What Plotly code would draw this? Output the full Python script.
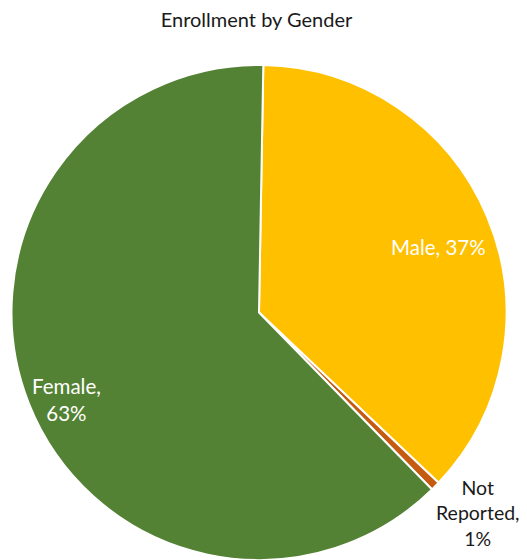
import math
import plotly.graph_objects as go

# Data
labels = ["Male", "Not Reported", "Female"]
values = [36.8, 0.6, 62.6]
display_labels = ["Male, 37%", "Not<br>Reported,<br>1%", "Female,<br>63%"]

# Styles
colors = ["#FFC000", "#C55A11", "#548235"]
text_colors = ["white", "#1a1a1a", "white"]
label_radius = [0.77, 1.20, 0.853]
label_angle_shift = [2.7, -2.2, -2.8]
label_sizes = [20.5, 19.5, 20.5]

W, H = 527, 560
OFF = 8  # page body margin
ROT = 1
CX, CY, R = 259 - OFF, 312.5 - OFF, 247.5
dom_x = [(CX - R) / W, (CX + R) / W]
dom_y = [1 - (CY + R) / H, 1 - (CY - R) / H]

fig = go.Figure(go.Pie(
    labels=labels,
    values=values,
    sort=False,
    direction="clockwise",
    rotation=ROT,
    marker=dict(colors=colors, line=dict(color="white", width=2)),
    textinfo="none",
    hoverinfo="label+percent",
    showlegend=False,
    domain=dict(x=dom_x, y=dom_y),
))

# label positions derived from slice mid-angles
total = sum(values)
cum = 0
for v, txt, col, f, sh, fs in zip(values, display_labels, text_colors,
                                  label_radius, label_angle_shift, label_sizes):
    mid = math.radians(ROT + 360 * (cum + v / 2) / total + sh)
    cum += v
    px = CX + R * f * math.sin(mid)
    py = CY - R * f * math.cos(mid)
    fig.add_annotation(
        x=px / W, y=1 - py / H, xref="paper", yref="paper",
        text=txt, showarrow=False, xanchor="center", yanchor="middle",
        font=dict(family="Lato", size=fs, color=col), align="center",
    )

fig.update_layout(
    width=W, height=H,
    margin=dict(l=0, r=0, t=0, b=0),
    paper_bgcolor="white",
    title=dict(text="Enrollment by Gender", x=248.5 / W, xanchor="center",
               y=1 - 12 / H, yanchor="middle",
               font=dict(family="Lato", size=20, color="#1a1a1a")),
)

fig.write_html("out.html")
